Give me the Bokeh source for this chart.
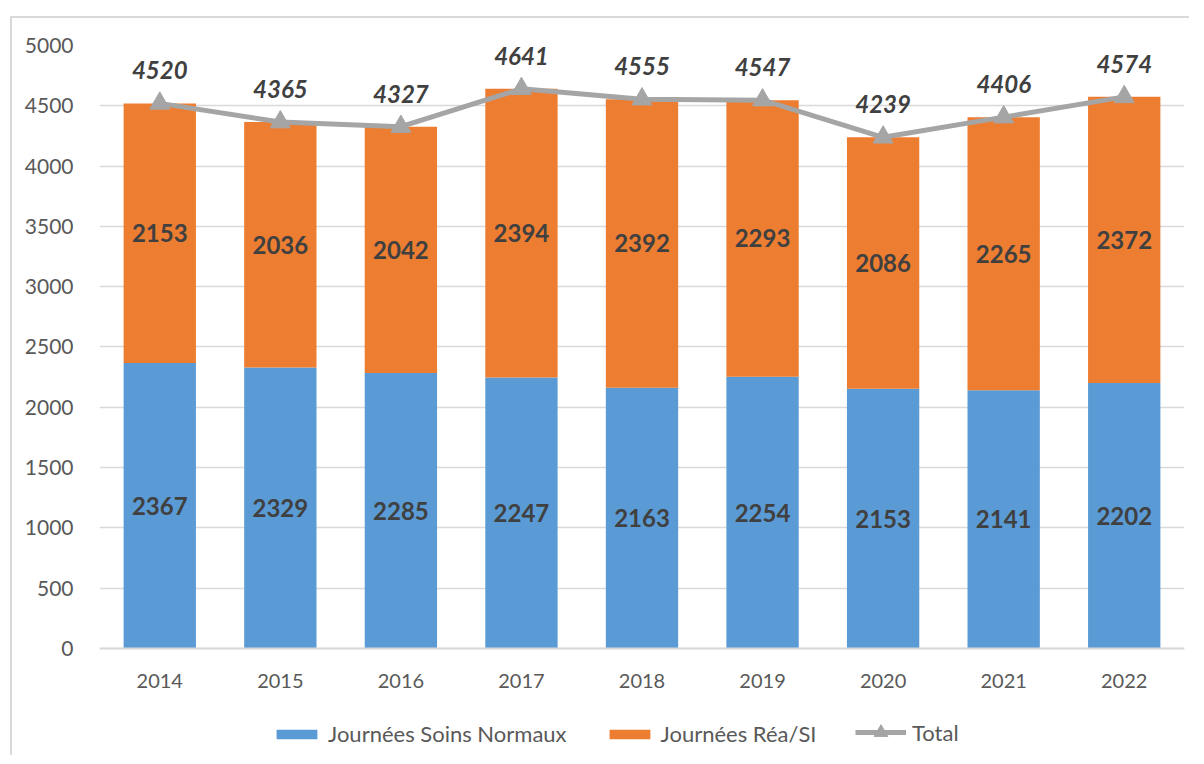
from bokeh.plotting import figure
from bokeh.models import ColumnDataSource, LabelSet, Legend, LegendItem
from bokeh.core.properties import value
from bokeh.embed import file_html
from bokeh.resources import INLINE

years = ["2014", "2015", "2016", "2017", "2018", "2019", "2020", "2021", "2022"]
normaux = [2367, 2329, 2285, 2247, 2163, 2254, 2153, 2141, 2202]
rea = [2153, 2036, 2042, 2394, 2392, 2293, 2086, 2265, 2372]
total = [4520, 4365, 4327, 4641, 4555, 4547, 4239, 4406, 4574]
y_ticks = [0, 500, 1000, 1500, 2000, 2500, 3000, 3500, 4000, 4500, 5000]

BLUE = "#5B9BD5"
ORANGE = "#ED7D31"
GRAY = "#A5A5A5"
TXT = "#595959"
LBL = "#404040"
FONT = "Lato"

src = ColumnDataSource(dict(
    years=years, normaux=normaux, rea=rea, total=total,
    y_norm=[n / 2 for n in normaux],
    y_rea=[n + r / 2 for n, r in zip(normaux, rea)],
    t_norm=[str(v) for v in normaux],
    t_rea=[str(v) for v in rea],
    t_total=[str(v) for v in total],
))

# frame extends below the zero line to host the legend; x axis pinned at y=0
p = figure(x_range=years, y_range=(-846, 5000), frame_width=1085, frame_height=705,
           output_backend="svg", toolbar_location=None,
           min_border_left=87, min_border_right=5, min_border_top=27, min_border_bottom=5)
p.styles = {"margin-left": "10px", "margin-top": "16px",
            "border-left": "2px solid #D9D9D9", "border-top": "2px solid #D9D9D9"}
p.outline_line_color = None
p.background_fill_color = "white"
p.border_fill_color = "white"

bars = p.vbar_stack(["normaux", "rea"], x="years", width=0.6, color=[BLUE, ORANGE],
                    line_color=None, source=src)
line = p.line("years", "total", source=src, line_width=5, color=GRAY)
pts = p.scatter("years", "total", source=src, marker="triangle", size=20, color=GRAY)

lab_style = dict(text_font=value(FONT), text_font_size=value("24px"),
                 text_font_style=value("bold"), text_color=value(LBL),
                 text_align=value("center"), text_baseline=value("middle"), source=src)
p.add_layout(LabelSet(x="years", y="y_norm", text="t_norm", **lab_style))
p.add_layout(LabelSet(x="years", y="y_rea", text="t_rea", **lab_style))
tot_style = dict(lab_style)
tot_style["text_font_style"] = value("bold italic")
p.add_layout(LabelSet(x="years", y="total", text="t_total", y_offset=33, **tot_style))

p.yaxis.ticker = y_ticks
p.yaxis.axis_line_color = None
p.yaxis.major_tick_line_color = None
p.yaxis.minor_tick_line_color = None
p.yaxis.major_label_text_font = FONT
p.yaxis.major_label_text_font_size = "21px"
p.yaxis.major_label_text_color = TXT
p.yaxis.major_label_standoff = 20

p.xaxis.fixed_location = 0
p.xaxis.axis_line_color = "#D9D9D9"
p.xaxis.axis_line_width = 2
p.xaxis.major_tick_line_color = None
p.xaxis.minor_tick_line_color = None
p.xaxis.major_label_text_font = FONT
p.xaxis.major_label_text_font_size = "20px"
p.xaxis.major_label_text_color = TXT
p.xaxis.major_label_standoff = 20

p.xgrid.grid_line_color = None
p.ygrid.grid_line_color = "#D9D9D9"
p.ygrid.grid_line_width = 1.5

leg_style = dict(orientation="horizontal", padding=0, margin=0, spacing=37,
                 glyph_width=51, label_standoff=6,
                 label_text_font=FONT, label_text_font_size="22px", label_text_color=TXT,
                 border_line_color=None, background_fill_alpha=0)
legend = Legend(items=[
    LegendItem(label="Journées Soins Normaux", renderers=[bars[0]]),
    LegendItem(label="Journées Réa/SI", renderers=[bars[1]]),
], location=(172, 3), glyph_height=12, **leg_style)
p.add_layout(legend, "center")

legend2 = Legend(items=[
    LegendItem(label="Total", renderers=[line, pts]),
], location=(756, 1), glyph_height=34, **leg_style)
p.add_layout(legend2, "center")

open("out.html", "w").write(file_html(p, INLINE))
